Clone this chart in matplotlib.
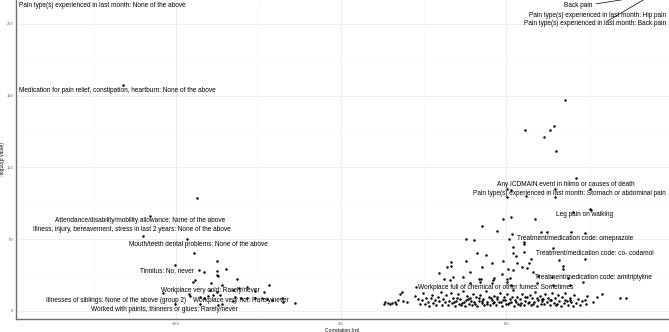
import matplotlib
matplotlib.use("Agg")
import matplotlib.pyplot as plt
from matplotlib.ticker import MultipleLocator

plt.rcParams["font.family"] = ["Liberation Sans", "DejaVu Sans"]

# genetic correlation (rg) vs -log10(p) per trait
rg_neg = [-0.659, -0.435, -0.577, -0.598, -0.465, -0.444, -0.502, -0.375, -0.429, -0.414,
          -0.375, -0.347, -0.375, -0.372, -0.314, -0.441, -0.447, -0.393, -0.360, -0.218,
          -0.538, -0.459, -0.456, -0.426, -0.414, -0.402, -0.387, -0.366, -0.326, -0.308,
          -0.284, -0.260, -0.233, -0.320, -0.302, -0.284, -0.260, -0.239, -0.224, -0.208,
          -0.178, -0.175, -0.139, -0.502, -0.372, -0.360, -0.426, -0.326, -0.396, -0.375]
p_neg = [157.4, 78.7, 66.2, 52.2, 50.1, 40.4, 32.0, 34.8, 28.6, 27.2,
         27.9, 29.2, 25.1, 24.4, 22.3, 21.6, 20.2, 19.5, 18.1, 18.1,
         12.5, 11.8, 10.4, 9.7, 9.1, 10.4, 11.1, 11.1, 14.6, 16.0,
         16.7, 13.9, 13.2, 9.7, 9.1, 9.1, 9.1, 9.1, 8.4, 7.7,
         9.1, 6.3, 5.6, 4.9, 4.2, 4.9, 4.9, 7.0, 14.6, 13.2]

rg_pos = [0.677, 0.556, 0.631, 0.644, 0.613, 0.650, 0.710, 0.502, 0.514, 0.502,
          0.559, 0.647, 0.647, 0.752, 0.752, 0.701, 0.755, 0.489, 0.514, 0.586,
          0.426, 0.471, 0.517, 0.604, 0.622, 0.695, 0.737, 0.378, 0.402, 0.508,
          0.553, 0.553, 0.520, 0.640, 0.411, 0.438, 0.520, 0.553, 0.529, 0.574,
          0.659, 0.737, 0.378, 0.456, 0.489, 0.532, 0.568, 0.671, 0.332, 0.332,
          0.426, 0.505, 0.520, 0.547, 0.562, 0.671, 0.390, 0.486, 0.580, 0.338,
          0.369, 0.423, 0.459, 0.502, 0.511, 0.595, 0.637, 0.686, 0.731, 0.390,
          0.456, 0.514, 0.592, 0.640, 0.692, 0.320, 0.296, 0.311, 0.329, 0.417,
          0.462, 0.420, 0.502, 0.227, 0.184, 0.178, 0.789, 0.773, 0.743, 0.737,
          0.740, 0.761, 0.843, 0.861, 0.677, 0.692, 0.631, 0.653, 0.610,
          0.133, 0.142, 0.154, 0.163, 0.172, 0.187, 0.199, 0.148, 0.166, 0.130,
          0.903, 0.930, 0.964]
p_pos = [146.9, 126.0, 126.0, 128.8, 121.2, 111.4, 92.6, 85.0, 84.3, 79.4,
         80.1, 85.0, 79.4, 85.0, 71.0, 68.9, 70.3, 64.1, 65.5, 64.1,
         59.2, 55.7, 53.6, 55.0, 55.0, 55.0, 54.3, 50.1, 49.4, 50.1,
         48.0, 46.7, 44.6, 43.9, 40.4, 39.0, 40.4, 41.1, 38.3, 36.2,
         35.5, 36.2, 34.8, 33.4, 34.8, 33.4, 33.4, 31.3, 34.1, 31.3,
         30.6, 29.2, 28.6, 30.6, 29.9, 29.2, 27.2, 25.8, 27.2, 23.7,
         23.7, 22.3, 21.6, 22.3, 23.0, 24.4, 23.7, 23.0, 20.2, 19.5,
         19.5, 18.1, 19.5, 18.1, 18.1, 30.6, 26.5, 22.3, 21.6, 22.3,
         23.0, 20.2, 20.2, 16.7, 13.2, 11.8, 11.8, 9.7, 10.4, 7.7,
         4.9, 6.3, 9.1, 9.1, 7.7, 7.7, 7.7, 4.9, 8.4,
         6.3, 5.6, 5.6, 6.3, 7.7, 7.0, 6.3, 4.9, 4.9, 4.9,
         218.7, 225.0, 223.5]

# dense band of weak positive correlations
rg_band = [0.225, 0.232, 0.238, 0.244, 0.249, 0.253, 0.258, 0.262, 0.267, 0.271,
           0.276, 0.279, 0.284, 0.288, 0.292, 0.296, 0.301, 0.305, 0.309, 0.313,
           0.318, 0.322, 0.326, 0.331, 0.335, 0.339, 0.344, 0.348, 0.352, 0.357,
           0.361, 0.365, 0.369, 0.374, 0.378, 0.382, 0.386, 0.391, 0.395, 0.399,
           0.403, 0.408, 0.412, 0.416, 0.420, 0.425, 0.429, 0.433, 0.437, 0.442,
           0.446, 0.450, 0.455, 0.459, 0.463, 0.467, 0.472, 0.476, 0.480, 0.485,
           0.489, 0.493, 0.497, 0.502, 0.506, 0.510, 0.514, 0.519, 0.523, 0.527,
           0.531, 0.536, 0.540, 0.544, 0.548, 0.553, 0.557, 0.561, 0.566, 0.570,
           0.574, 0.578, 0.583, 0.587, 0.591, 0.595, 0.600, 0.604, 0.608, 0.613,
           0.617, 0.621, 0.625, 0.630, 0.634, 0.638, 0.643, 0.647, 0.651, 0.656,
           0.660, 0.664, 0.669, 0.673, 0.678, 0.682, 0.686, 0.691, 0.696, 0.700,
           0.705, 0.710, 0.716, 0.722, 0.728,
           0.340, 0.350, 0.362, 0.371, 0.383, 0.393, 0.405, 0.418, 0.427, 0.440,
           0.452, 0.461, 0.470, 0.483, 0.495, 0.508, 0.517, 0.529, 0.542, 0.555,
           0.568, 0.580, 0.593, 0.606]
p_band = [10.5, 8.2, 5.1, 7.4, 12.3, 4.6, 9.0, 6.2, 3.8, 8.7,
          11.4, 5.5, 7.9, 4.2, 9.8, 6.6, 13.1, 3.9, 8.4, 5.9,
          10.9, 4.5, 7.2, 12.8, 5.3, 9.3, 3.6, 6.9, 11.7, 4.8,
          8.1, 5.7, 14.2, 3.7, 7.6, 10.2, 5.0, 8.8, 4.1, 12.0,
          6.4, 9.5, 3.5, 7.1, 11.1, 5.4, 8.5, 4.4, 13.6, 6.1,
          9.9, 3.9, 7.7, 5.2, 10.6, 4.3, 8.3, 6.0, 12.5, 3.8,
          7.3, 9.6, 5.1, 11.8, 4.7, 8.0, 6.3, 14.8, 3.6, 7.5,
          10.0, 4.9, 8.6, 5.8, 12.1, 4.0, 7.0, 9.4, 5.5, 11.3,
          4.2, 8.9, 6.5, 13.4, 3.7, 7.8, 10.4, 5.0, 8.2, 4.6,
          11.6, 6.2, 9.1, 3.9, 7.4, 12.7, 5.6, 8.7, 4.3, 10.8,
          6.8, 3.8, 9.7, 5.3, 12.2, 7.1, 4.5, 9.0, 6.0, 3.6,
          11.0, 5.8, 8.3, 4.1, 7.0,
          6.0, 9.1, 4.0, 6.5, 8.0, 6.8, 4.8, 9.0, 6.9, 4.6,
          9.2, 6.4, 10.0, 5.9, 7.9, 5.6, 9.9, 6.2, 4.4, 9.6,
          6.4, 5.0, 8.9, 6.6]

# trait labels (text, label x, label y)
label_text = [
    "Pain type(s) experienced in last month: None of the above",
    "Medication for pain relief, constipation, heartburn: None of the above",
    "Attendance/disability/mobility allowance: None of the above",
    "Illness, injury, bereavement, stress in last 2 years: None of the above",
    "Mouth/teeth dental problems: None of the above",
    "Tinnitus: No, never",
    "Workplace very cold: Rarely/never",
    "Illnesses of siblings: None of the above (group 2)",
    "Workplace very hot: Rarely/never",
    "Worked with paints, thinners or glues: Rarely/never",
    "Back pain",
    "Pain type(s) experienced in last month: Hip pain",
    "Pain type(s) experienced in last month: Back pain",
    "Any ICDMAIN event in hilmo or causes of death",
    "Pain type(s) experienced in last month: Stomach or abdominal pain",
    "Leg pain on walking",
    "Treatment/medication code: omeprazole",
    "Treatment/medication code: co- codamol",
    "Treatment/medication code: amitriptyline",
    "Workplace full of chemical or other fumes: Sometimes",
]
label_x = [-0.722, -0.675, -0.607, -0.631, -0.432, -0.526, -0.396, -0.680, -0.302, -0.532,
           0.716, 0.774, 0.768, 0.678, 0.690, 0.736, 0.707, 0.767, 0.763, 0.468]
label_y = [213.1, 153.9, 62.7, 56.4, 46.0, 27.9, 14.6, 7.0, 7.0, 0.7,
           213.1, 206.1, 199.9, 88.4, 81.5, 66.9, 50.8, 39.7, 23.0, 16.0]

fig = plt.figure(figsize=(6.69, 3.32), dpi=100)
ax = fig.add_axes([16 / 669, 13 / 332, 653 / 669, 319 / 332])

ax.scatter(rg_neg + rg_pos + rg_band, p_neg + p_pos + p_band, s=3.2, c="black",
           linewidths=0, zorder=3)

for txt, x, y in zip(label_text, label_x, label_y):
    ax.text(x, y, txt, fontsize=4.7, ha="center", va="center", color="black", zorder=4)

# repel segments to the off-panel back pain points
ax.annotate("", xy=(rg_pos[-3], p_pos[-3]), xytext=(0.762, 213.6),
            arrowprops=dict(arrowstyle="-", lw=0.5, color="black"), annotation_clip=False)
ax.annotate("", xy=(rg_pos[-1], p_pos[-1]), xytext=(0.798, 201.0),
            arrowprops=dict(arrowstyle="-", lw=0.5, color="black"), annotation_clip=False)

ax.set_xlim(-0.982, 0.991)
ax.set_ylim(-5.6, 216.6)
ax.xaxis.set_major_locator(MultipleLocator(0.5))
ax.xaxis.set_minor_locator(MultipleLocator(0.25))
ax.yaxis.set_major_locator(MultipleLocator(50))
ax.yaxis.set_minor_locator(MultipleLocator(25))
ax.grid(which="major", color="#ebebeb", lw=0.6)
ax.grid(which="minor", color="#f3f3f3", lw=0.4)
ax.set_axisbelow(True)

for side in ["top", "right"]:
    ax.spines[side].set_visible(False)
for side in ["left", "bottom"]:
    ax.spines[side].set_color("#6e6e6e")
    ax.spines[side].set_linewidth(1.0)

ax.tick_params(which="both", length=0, labelsize=3, labelcolor="#555555", pad=2)
ax.set_xlabel("Correlation (rg)", fontsize=3.6, labelpad=1.5)
ax.set_ylabel("-log10(p value)", fontsize=3.6)
ax.yaxis.set_label_coords(-0.017, 0.5)

fig.savefig("out.png", dpi=100)
